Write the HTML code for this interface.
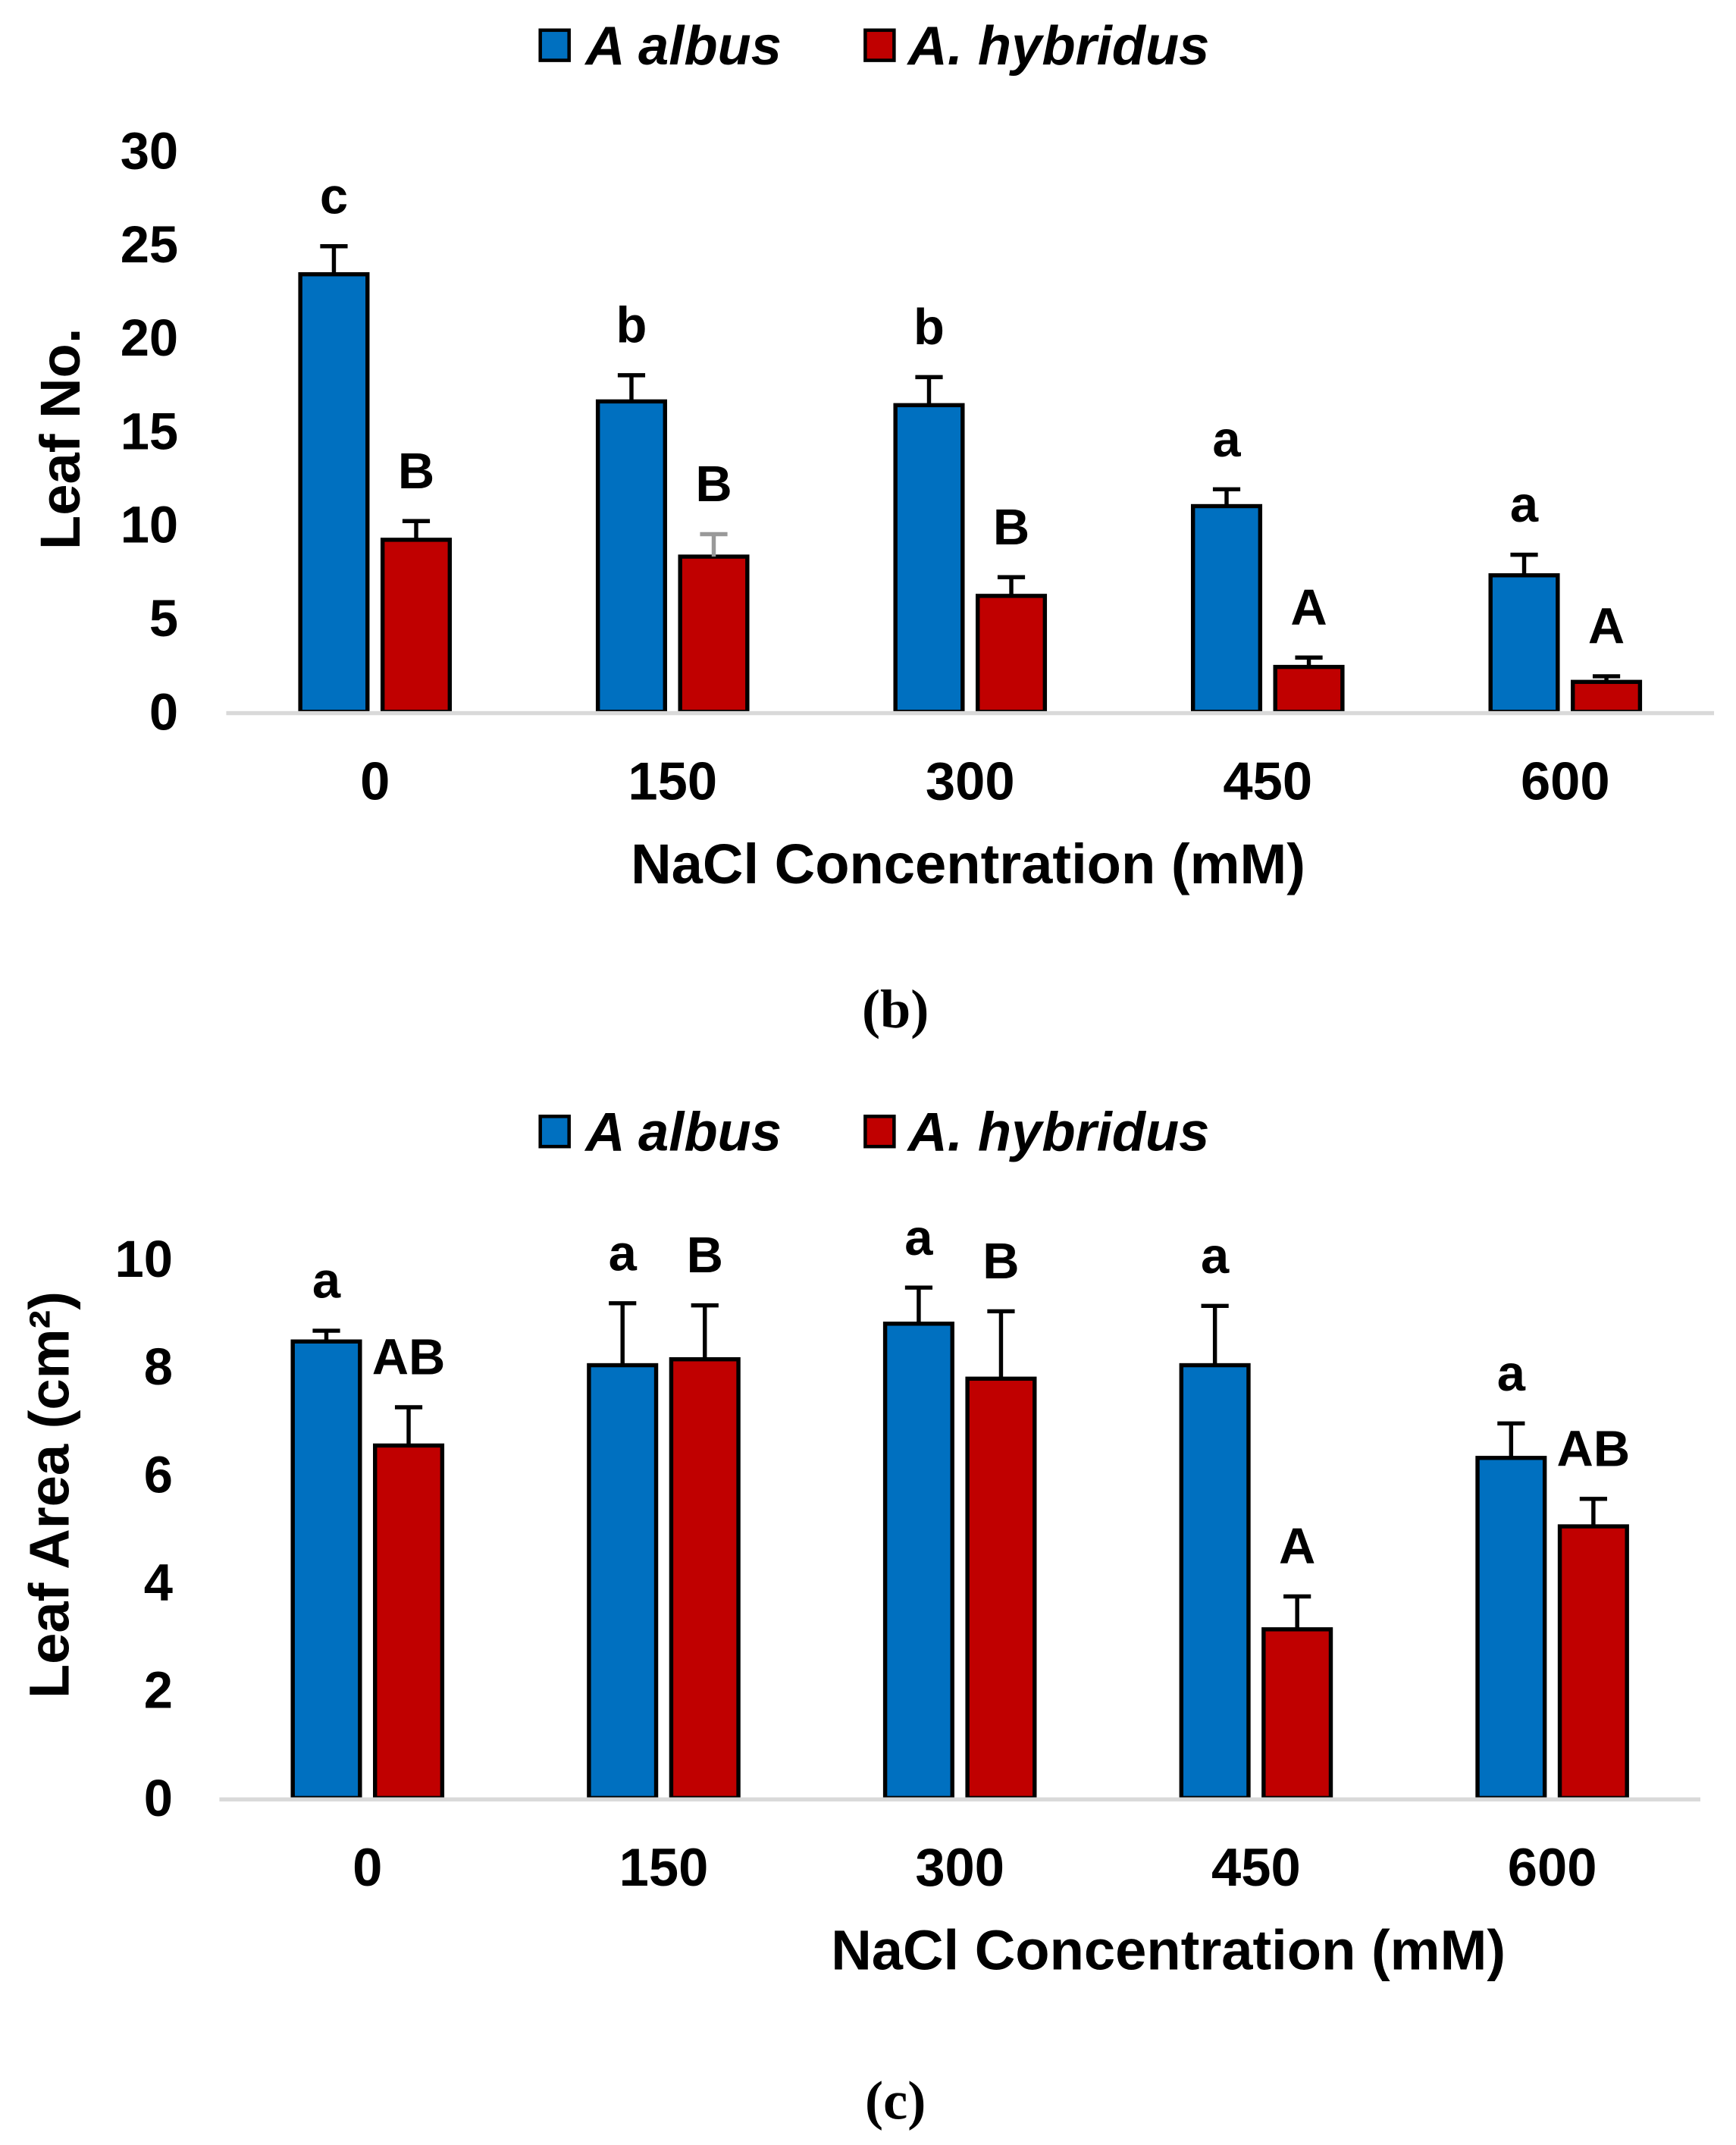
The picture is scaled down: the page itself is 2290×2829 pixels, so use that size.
<!DOCTYPE html>
<html><head><meta charset="utf-8"><style>
html,body{margin:0;padding:0;background:#fff;}
svg{display:block;}
text{font-family:"Liberation Sans",Arial,sans-serif;font-weight:bold;fill:#000;}
</style></head><body>
<svg id="fig" width="2290" height="2829" viewBox="0 0 1266 1564" preserveAspectRatio="none" xmlns="http://www.w3.org/2000/svg"></svg>
<script>
const categories = ["0","150","300","450","600"];
// Chart b: Leaf No.
const bAlbus = [23.4, 16.6, 16.4, 11.0, 7.3];
const bAlbusErr = [1.5, 1.4, 1.5, 0.9, 1.1];
const bHyb = [9.2, 8.3, 6.2, 2.4, 1.6];
const bHybErr = [1.0, 1.2, 1.0, 0.5, 0.3];
const bAlbusLetters = ["c","b","b","a","a"];
const bHybLetters = ["B","B","B","A","A"];
const bTicks = [0,5,10,15,20,25,30];
// Chart c: Leaf Area
const cAlbus = [8.47, 8.03, 8.8, 8.03, 6.31];
const cAlbusErr = [0.2, 1.15, 0.67, 1.1, 0.64];
const cHyb = [6.54, 8.14, 7.78, 3.13, 5.04];
const cHybErr = [0.71, 1.0, 1.25, 0.61, 0.51];
const cAlbusLetters = ["a","a","a","a","a"];
const cHybLetters = ["AB","B","B","A","AB"];
const cTicks = [0,2,4,6,8,10];

const NS="http://www.w3.org/2000/svg";
const svg=document.getElementById('fig');
function mk(tag,attrs,parent,txt){const e=document.createElementNS(NS,tag);for(const k in attrs)e.setAttribute(k,attrs[k]);if(txt!==undefined)e.textContent=txt;(parent||svg).appendChild(e);return e;}

function chart(cfg){
  const g=mk('g',{});
  
  
  const y=v=>cfg.y0-(v-cfg.vmin)/(cfg.vmax-cfg.vmin)*(cfg.y0-cfg.y1);
  const bw=(cfg.x1-cfg.x0)/categories.length;
  const xc=i=>cfg.x0+bw*(i+0.5);
  const lg=mk('g',{},g);
  
  
  const l1=mk('rect',{x:394,y:cfg.ly-11,width:21,height:22,fill:'#0070c0',stroke:'#000','stroke-width':2.5},lg);
  
  
  const t1=mk('text',{x:427,y:cfg.ly+14,'font-size':40,'font-style':'italic'},lg,'A albus');
  
  
  const l2=mk('rect',{x:631,y:cfg.ly-11,width:21,height:22,fill:'#c00000',stroke:'#000','stroke-width':2.5},lg);
  
  
  const t2=mk('text',{x:662,y:cfg.ly+14,'font-size':40,'font-style':'italic'},lg,'A. hybridus');
  
  
  cfg.ticks.forEach(t=>{
    const e=mk('text',{x:cfg.tickX,y:y(t)+13,'font-size':38,'text-anchor':'end'},g,String(t));
    
    
  });
  const yt=mk('text',{x:0,y:0,'font-size':41,'text-anchor':'middle',transform:`translate(${cfg.ytx},${cfg.yty}) rotate(-90)`},g,cfg.ytitle);
  
  
  const series=[[cfg.a,cfg.ae,cfg.al,'#0070c0',-30,'albus'],[cfg.h,cfg.he,cfg.hl,'#c00000',30,'hybridus']];
  series.forEach(([vals,errs,lets,col,off,nm])=>{
    vals.forEach((v,i)=>{
      const cx=xc(i)+off;
      const r=mk('rect',{x:cx-24.5,y:y(v),width:49,height:y(0)-y(v),fill:col,stroke:'#000','stroke-width':3},g);
      
      
      const et=y(v+errs[i]);
      const ec=(cfg.name==='chart-b'&&nm==='hybridus'&&i===1)?'#999':'#000';
      const eb=mk('path',{d:`M${cx} ${y(v)}V${et}M${cx-10} ${et}H${cx+10}`,stroke:ec,'stroke-width':3,fill:'none'},g);
      
      
      const lt=mk('text',{x:cx,y:et-24,'font-size':37,'text-anchor':'middle'},g,lets[i]);
      
      
    });
  });
  const ax=mk('line',{x1:cfg.x0,x2:cfg.x1,y1:cfg.y0+1,y2:cfg.y0+1,stroke:'#d9d9d9','stroke-width':3},g);
  
  
  categories.forEach((c,i)=>{
    const e=mk('text',{x:xc(i),y:cfg.y0+64,'font-size':39,'text-anchor':'middle'},g,c);
    
    
  });
  const xt=mk('text',{x:cfg.xtx,y:cfg.y0+125,'font-size':41,'text-anchor':'middle'},g,'NaCl Concentration (mM)');
  
  
  const pl=mk('text',{x:653,y:cfg.panelY,'font-size':40,'text-anchor':'middle',style:'font-family:"Liberation Serif",serif'},g,cfg.panel);
  
  
}

chart({name:'chart-b',ly:33,y0:519,y1:110,vmin:0,vmax:30,x0:165,x1:1250,ticks:bTicks,tickX:130,ytitle:'Leaf No.',ytx:58,yty:320,
  a:bAlbus,ae:bAlbusErr,al:bAlbusLetters,h:bHyb,he:bHybErr,hl:bHybLetters,xtx:706,panel:'(b)',panelY:749});
chart({name:'chart-c',ly:825,y0:1311,y1:918,vmin:0,vmax:10,x0:160,x1:1240,ticks:cTicks,tickX:126,ytitle:'Leaf Area (cm²)',ytx:50,yty:1090,
  a:cAlbus,ae:cAlbusErr,al:cAlbusLetters,h:cHyb,he:cHybErr,hl:cHybLetters,xtx:852,panel:'(c)',panelY:1545});
</script>
</body></html>
